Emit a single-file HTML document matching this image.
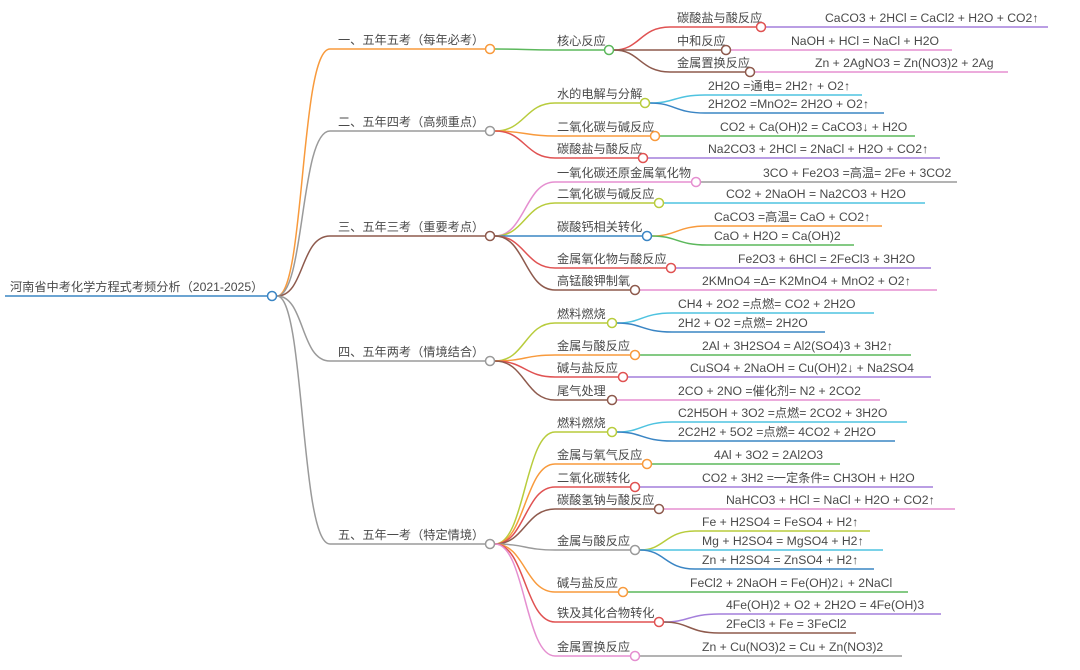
<!DOCTYPE html>
<html><head><meta charset="utf-8"><style>
html,body{margin:0;padding:0;background:#fff;}
svg{display:block;}
text{font-family:"Liberation Sans","Noto Sans CJK SC",sans-serif;font-size:12.2px;fill:#4a4a4a;}
path,line{fill:none;stroke-width:1.5;}
circle{fill:#fff;stroke-width:1.5;}
</style></head><body>
<svg width="1080" height="670" viewBox="0 0 1080 670">
<!-- root -->
<line x1="5" y1="296" x2="267" y2="296" stroke="#3a85c4"/>
<text x="10" y="291">河南省中考化学方程式考频分析（2021-2025）</text>
<!-- L1 -->
<path d="M277 296 C305 296 300 49 330 49 H485" stroke="#f89a3c"/>
<path d="M277 296 C305 296 300 131 330 131 H485" stroke="#9a9a9a"/>
<path d="M277 296 C305 296 300 236 330 236 H485" stroke="#8e5a4d"/>
<path d="M277 296 C305 296 300 361 330 361 H485" stroke="#9a9a9a"/>
<path d="M277 296 C305 296 300 544 330 544 H485" stroke="#9a9a9a"/>
<circle cx="272" cy="296" r="4.5" stroke="#3a85c4"/>
<text x="338" y="44">一、五年五考（每年必考）</text>
<text x="338" y="126">二、五年四考（高频重点）</text>
<text x="338" y="231">三、五年三考（重要考点）</text>
<text x="338" y="356">四、五年两考（情境结合）</text>
<text x="338" y="539">五、五年一考（特定情境）</text>

<!-- I -->
<path d="M495 49 C525 49 525 50 555 50 H604.5" stroke="#5cb85c"/>
<circle cx="490" cy="49" r="4.5" stroke="#f89a3c"/>
<text x="557" y="45">核心反应</text>
<path d="M614 50 C640 50 640 27 670 27 H756.5" stroke="#e05252"/>
<path d="M614 50 H721.5" stroke="#8e5a4d"/>
<path d="M614 50 C640 50 640 72 670 72 H745.5" stroke="#8e5a4d"/>
<circle cx="609" cy="50" r="4.5" stroke="#5cb85c"/>
<text x="677" y="22">碳酸盐与酸反应</text>
<text x="677" y="45">中和反应</text>
<text x="677" y="67">金属置换反应</text>
<line x1="766" y1="27" x2="1048" y2="27" stroke="#a47fdb"/>
<line x1="731" y1="50" x2="952" y2="50" stroke="#e58fd0"/>
<line x1="755" y1="72" x2="1008" y2="72" stroke="#e58fd0"/>
<circle cx="761" cy="27" r="4.5" stroke="#e05252"/>
<circle cx="726" cy="50" r="4.5" stroke="#8e5a4d"/>
<circle cx="750" cy="72" r="4.5" stroke="#8e5a4d"/>
<text x="825" y="22">CaCO3 + 2HCl = CaCl2 + H2O + CO2↑</text>
<text x="791" y="45">NaOH + HCl = NaCl + H2O</text>
<text x="815" y="67">Zn + 2AgNO3 = Zn(NO3)2 + 2Ag</text>

<!-- II -->
<path d="M495 131 C525 131 525 103 555 103 H640.5" stroke="#b8cc3c"/>
<path d="M495 131 C525 131 525 136 555 136 H650.5" stroke="#f89a3c"/>
<path d="M495 131 C525 131 525 158 555 158 H638.5" stroke="#e05252"/>
<circle cx="490" cy="131" r="4.5" stroke="#9a9a9a"/>
<text x="557" y="98">水的电解与分解</text>
<text x="557" y="131">二氧化碳与碱反应</text>
<text x="557" y="153">碳酸盐与酸反应</text>
<path d="M650 103 C675 103 675 95 705 95 H862" stroke="#4fc3e0"/>
<path d="M650 103 C675 103 675 113 705 113 H884" stroke="#3a85c4"/>
<line x1="660" y1="136" x2="915" y2="136" stroke="#5cb85c"/>
<line x1="648" y1="158" x2="940" y2="158" stroke="#a47fdb"/>
<circle cx="645" cy="103" r="4.5" stroke="#b8cc3c"/>
<circle cx="655" cy="136" r="4.5" stroke="#f89a3c"/>
<circle cx="643" cy="158" r="4.5" stroke="#e05252"/>
<text x="708" y="90">2H2O =通电= 2H2↑ + O2↑</text>
<text x="708" y="108">2H2O2 =MnO2= 2H2O + O2↑</text>
<text x="720" y="131">CO2 + Ca(OH)2 = CaCO3↓ + H2O</text>
<text x="708" y="153">Na2CO3 + 2HCl = 2NaCl + H2O + CO2↑</text>

<!-- III -->
<path d="M495 236 C525 236 525 182 555 182 H691.5" stroke="#e58fd0"/>
<path d="M495 236 C525 236 525 203 555 203 H654.5" stroke="#b8cc3c"/>
<path d="M495 236 H642.5" stroke="#3a85c4"/>
<path d="M495 236 C525 236 525 268 555 268 H666.5" stroke="#e05252"/>
<path d="M495 236 C525 236 525 290 555 290 H630.5" stroke="#8e5a4d"/>
<circle cx="490" cy="236" r="4.5" stroke="#8e5a4d"/>
<text x="557" y="177">一氧化碳还原金属氧化物</text>
<text x="557" y="198">二氧化碳与碱反应</text>
<text x="557" y="231">碳酸钙相关转化</text>
<text x="557" y="263">金属氧化物与酸反应</text>
<text x="557" y="285">高锰酸钾制氧</text>
<line x1="701" y1="182" x2="957" y2="182" stroke="#9a9a9a"/>
<line x1="664" y1="203" x2="925" y2="203" stroke="#4fc3e0"/>
<path d="M652 236 C677 236 677 226 707 226 H882" stroke="#f89a3c"/>
<path d="M652 236 C677 236 677 245 707 245 H854" stroke="#5cb85c"/>
<line x1="676" y1="268" x2="931" y2="268" stroke="#a47fdb"/>
<line x1="640" y1="290" x2="937" y2="290" stroke="#e58fd0"/>
<circle cx="696" cy="182" r="4.5" stroke="#e58fd0"/>
<circle cx="659" cy="203" r="4.5" stroke="#b8cc3c"/>
<circle cx="647" cy="236" r="4.5" stroke="#3a85c4"/>
<circle cx="671" cy="268" r="4.5" stroke="#e05252"/>
<circle cx="635" cy="290" r="4.5" stroke="#8e5a4d"/>
<text x="763" y="177">3CO + Fe2O3 =高温= 2Fe + 3CO2</text>
<text x="726" y="198">CO2 + 2NaOH = Na2CO3 + H2O</text>
<text x="714" y="221">CaCO3 =高温= CaO + CO2↑</text>
<text x="714" y="240">CaO + H2O = Ca(OH)2</text>
<text x="738" y="263">Fe2O3 + 6HCl = 2FeCl3 + 3H2O</text>
<text x="702" y="285">2KMnO4 =Δ= K2MnO4 + MnO2 + O2↑</text>

<!-- IV -->
<path d="M495 361 C525 361 525 323 555 323 H607.5" stroke="#b8cc3c"/>
<path d="M495 361 C525 361 525 355 555 355 H630.5" stroke="#f89a3c"/>
<path d="M495 361 C525 361 525 377 555 377 H618.5" stroke="#e05252"/>
<path d="M495 361 C525 361 525 400 555 400 H607.5" stroke="#8e5a4d"/>
<circle cx="490" cy="361" r="4.5" stroke="#9a9a9a"/>
<text x="557" y="318">燃料燃烧</text>
<text x="557" y="350">金属与酸反应</text>
<text x="557" y="372">碱与盐反应</text>
<text x="557" y="395">尾气处理</text>
<path d="M617 323 C642 323 642 313 672 313 H874" stroke="#4fc3e0"/>
<path d="M617 323 C642 323 642 332 672 332 H825" stroke="#3a85c4"/>
<line x1="640" y1="355" x2="911" y2="355" stroke="#5cb85c"/>
<line x1="628" y1="377" x2="931" y2="377" stroke="#a47fdb"/>
<line x1="617" y1="400" x2="880" y2="400" stroke="#e58fd0"/>
<circle cx="612" cy="323" r="4.5" stroke="#b8cc3c"/>
<circle cx="635" cy="355" r="4.5" stroke="#f89a3c"/>
<circle cx="623" cy="377" r="4.5" stroke="#e05252"/>
<circle cx="612" cy="400" r="4.5" stroke="#8e5a4d"/>
<text x="678" y="308">CH4 + 2O2 =点燃= CO2 + 2H2O</text>
<text x="678" y="327">2H2 + O2 =点燃= 2H2O</text>
<text x="702" y="350">2Al + 3H2SO4 = Al2(SO4)3 + 3H2↑</text>
<text x="690" y="372">CuSO4 + 2NaOH = Cu(OH)2↓ + Na2SO4</text>
<text x="678" y="395">2CO + 2NO =催化剂= N2 + 2CO2</text>

<!-- V -->
<path d="M495 544 C525 544 525 432 555 432 H607.5" stroke="#b8cc3c"/>
<path d="M495 544 C525 544 525 464 555 464 H642.5" stroke="#f89a3c"/>
<path d="M495 544 C525 544 525 487 555 487 H630.5" stroke="#e05252"/>
<path d="M495 544 C525 544 525 509 555 509 H654.5" stroke="#8e5a4d"/>
<path d="M495 544 C525 544 525 550 555 550 H630.5" stroke="#9a9a9a"/>
<path d="M495 544 C525 544 525 592 555 592 H618.5" stroke="#f89a3c"/>
<path d="M495 544 C525 544 525 622 555 622 H654.5" stroke="#e05252"/>
<path d="M495 544 C525 544 525 656 555 656 H630.5" stroke="#e58fd0"/>
<circle cx="490" cy="544" r="4.5" stroke="#9a9a9a"/>
<text x="557" y="427">燃料燃烧</text>
<text x="557" y="459">金属与氧气反应</text>
<text x="557" y="482">二氧化碳转化</text>
<text x="557" y="504">碳酸氢钠与酸反应</text>
<text x="557" y="545">金属与酸反应</text>
<text x="557" y="587">碱与盐反应</text>
<text x="557" y="617">铁及其化合物转化</text>
<text x="557" y="651">金属置换反应</text>
<path d="M617 432 C642 432 642 422 672 422 H907" stroke="#4fc3e0"/>
<path d="M617 432 C642 432 642 441 672 441 H895" stroke="#3a85c4"/>
<line x1="652" y1="464" x2="840" y2="464" stroke="#5cb85c"/>
<line x1="640" y1="487" x2="933" y2="487" stroke="#a47fdb"/>
<line x1="664" y1="509" x2="955" y2="509" stroke="#e58fd0"/>
<path d="M640 550 C665 550 665 531 695 531 H870" stroke="#b8cc3c"/>
<path d="M640 550 H883" stroke="#4fc3e0"/>
<path d="M640 550 C665 550 665 569 695 569 H874" stroke="#3a85c4"/>
<line x1="628" y1="592" x2="908" y2="592" stroke="#5cb85c"/>
<path d="M664 622 C689 622 689 614 719 614 H941" stroke="#a47fdb"/>
<path d="M664 622 C689 622 689 633 719 633 H856" stroke="#8e5a4d"/>
<line x1="640" y1="656" x2="902" y2="656" stroke="#9a9a9a"/>
<circle cx="612" cy="432" r="4.5" stroke="#b8cc3c"/>
<circle cx="647" cy="464" r="4.5" stroke="#f89a3c"/>
<circle cx="635" cy="487" r="4.5" stroke="#e05252"/>
<circle cx="659" cy="509" r="4.5" stroke="#8e5a4d"/>
<circle cx="635" cy="550" r="4.5" stroke="#9a9a9a"/>
<circle cx="623" cy="592" r="4.5" stroke="#f89a3c"/>
<circle cx="659" cy="622" r="4.5" stroke="#e05252"/>
<circle cx="635" cy="656" r="4.5" stroke="#e58fd0"/>
<text x="678" y="417">C2H5OH + 3O2 =点燃= 2CO2 + 3H2O</text>
<text x="678" y="436">2C2H2 + 5O2 =点燃= 4CO2 + 2H2O</text>
<text x="714" y="459">4Al + 3O2 = 2Al2O3</text>
<text x="702" y="482">CO2 + 3H2 =一定条件= CH3OH + H2O</text>
<text x="726" y="504">NaHCO3 + HCl = NaCl + H2O + CO2↑</text>
<text x="702" y="526">Fe + H2SO4 = FeSO4 + H2↑</text>
<text x="702" y="545">Mg + H2SO4 = MgSO4 + H2↑</text>
<text x="702" y="564">Zn + H2SO4 = ZnSO4 + H2↑</text>
<text x="690" y="587">FeCl2 + 2NaOH = Fe(OH)2↓ + 2NaCl</text>
<text x="726" y="609">4Fe(OH)2 + O2 + 2H2O = 4Fe(OH)3</text>
<text x="726" y="628">2FeCl3 + Fe = 3FeCl2</text>
<text x="702" y="651">Zn + Cu(NO3)2 = Cu + Zn(NO3)2</text>
</svg>
</body></html>
